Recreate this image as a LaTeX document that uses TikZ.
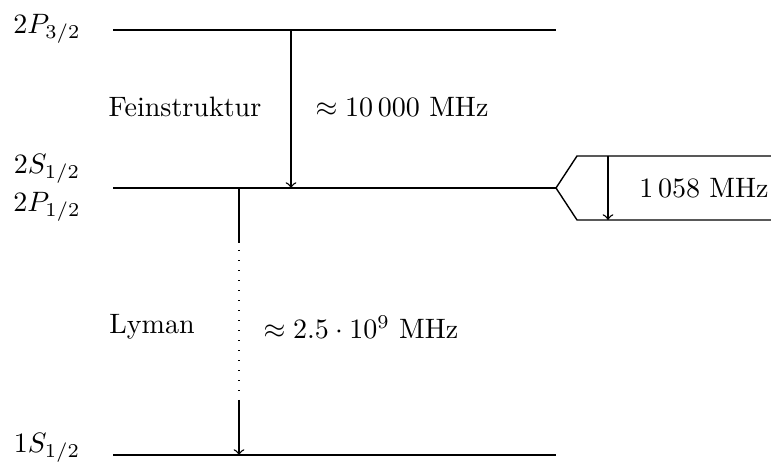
\documentclass[tikz,border=0pt]{standalone}
\begin{document}
\begin{tikzpicture}[x=0.3566pt,y=-0.3566pt,
  level/.style={line width=0.5pt},
  trans/.style={->,line width=0.5pt},
  lbl/.style={inner sep=0pt,anchor=center}]
\useasboundingbox (0,0) rectangle (771,466);
% levels
\coordinate (p32l) at (113,30);  \coordinate (p32r) at (556,30);
\coordinate (s12l) at (113,188); \coordinate (s12r) at (556,188);
\coordinate (g1l)  at (113,455); \coordinate (g1r)  at (556,455);
\draw[level] (p32l) -- (p32r);
\draw[level] (s12l) -- (s12r);
\draw[level] (g1l) -- (g1r);
% split
\coordinate (su) at (577,156); \coordinate (sd) at (577,220);
\coordinate (sue) at (771,156); \coordinate (sde) at (771,220);
\draw[level] (sue) -- (su) -- (s12r) -- (sd) -- (sde);
% level labels
\node[lbl] (L1) at (47,29) {$2P_{3/2}$};
\node[lbl] (L2) at (47,169) {$2S_{1/2}$};
\node[lbl] (L3) at (47,207) {$2P_{1/2}$};
\node[lbl] (L4) at (47,448) {$1S_{1/2}$};
% fine structure
\coordinate (fa) at (291,30); \coordinate (fb) at (291,188);
\draw[trans] (fa) -- (fb);
\node[lbl] (fein) at (185,107) {Feinstruktur};
\node[lbl] (feinv) at (402,107) {$\approx 10\,000$ MHz};
% lamb shift
\coordinate (la) at (608,156); \coordinate (lb) at (608,220);
\draw[trans] (la) -- (lb);
\node[lbl] (lamb) at (704,188) {$1\,058$ MHz};
% lyman
\coordinate (ya) at (239,188); \coordinate (yb) at (239,243);
\coordinate (yc) at (239,250); \coordinate (yd) at (239,395);
\coordinate (ye) at (239,400); \coordinate (yf) at (239,455);
\draw[level] (ya) -- (yb);
\draw[line width=0.4pt,dash pattern=on 0.4pt off 3.17pt] (yc) -- (yd);
\draw[trans] (ye) -- (yf);
\node[lbl] (lym) at (152,327) {Lyman};
\node[lbl] (lymv) at (361,327) {$\approx 2.5\cdot 10^9$ MHz};
\end{tikzpicture}
\end{document}
